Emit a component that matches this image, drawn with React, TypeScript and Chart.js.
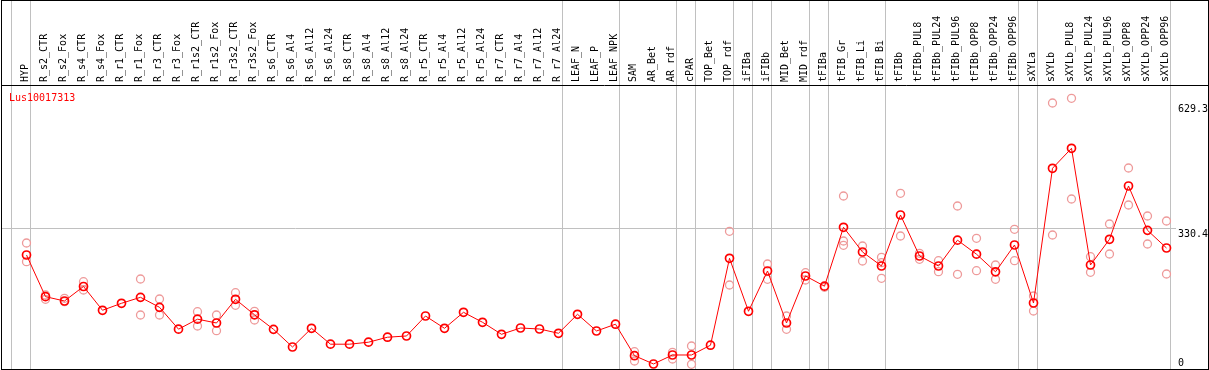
import React, { useEffect, useRef } from "react";
import { Chart, registerables } from "chart.js";

Chart.register(...registerables);

const categories = [
  "HYP", "R_s2_CTR", "R_s2_Fox", "R_s4_CTR", "R_s4_Fox", "R_r1_CTR", "R_r1_Fox", "R_r3_CTR", "R_r3_Fox",
  "R_r1s2_CTR", "R_r1s2_Fox", "R_r3s2_CTR", "R_r3s2_Fox", "R_s6_CTR", "R_s6_Al4", "R_s6_Al12", "R_s6_Al24",
  "R_s8_CTR", "R_s8_Al4", "R_s8_Al12", "R_s8_Al24", "R_r5_CTR", "R_r5_Al4", "R_r5_Al12", "R_r5_Al24",
  "R_r7_CTR", "R_r7_Al4", "R_r7_Al12", "R_r7_Al24", "LEAF_N", "LEAF_P", "LEAF_NPK", "SAM", "AR_Bet", "AR_rdf",
  "cPAR", "TOP_Bet", "TOP_rdf", "iFIBa", "iFIBb", "MID_Bet", "MID_rdf", "tFIBa", "tFIB_Gr", "tFIB_Li", "tFIB_Bi",
  "tFIBb", "tFIBb_PUL8", "tFIBb_PUL24", "tFIBb_PUL96", "tFIBb_OPP8", "tFIBb_OPP24", "tFIBb_OPP96",
  "sXYLa", "sXYLb", "sXYLb_PUL8", "sXYLb_PUL24", "sXYLb_PUL96", "sXYLb_OPP8", "sXYLb_OPP24", "sXYLb_OPP96",
];

const meanValues = [
  265.9, 166.2, 155.9, 190.6, 133.7, 150.4, 164.7, 140.8, 88.5,
  112.4, 103.3, 160.0, 122.9, 88.2, 45.9, 90.6, 52.6,
  52.6, 57.4, 69.3, 72.2, 120.0, 90.6, 128.9, 105.0,
  76.3, 91.3, 88.9, 78.7, 124.1, 84.2, 100.4, 25.1, 5.3, 26.8,
  26.8, 50.2, 258.0, 131.3, 227.6, 103.3, 215.7, 191.3, 332.1, 273.1, 239.6,
  361.5, 263.5, 239.6, 301.3, 267.8, 225.7, 289.8,
  151.1, 473.2, 521.0, 242.0, 303.4, 430.9, 324.9, 282.6,
];

const rep1 = [
  294.6, 170.2, 162.3, 202.0, null, null, 208.5, 160.7, null,
  130.3, 122.4, 175.7, 131.3, null, null, null, null,
  null, null, null, null, null, null, null, null,
  null, null, null, null, null, null, null, 34.7, null, 33.2,
  48.3, null, 322.5, null, 244.4, 120.0, 223.6, 188.6, 407.0, 287.4, 260.4,
  413.4, 269.9, 252.3, 383.0, 305.8, 242.0, 327.3,
  167.8, 629.3, 640.5, 261.8, 340.0, 473.9, 359.1, 347.2,
];

const rep2 = [
  249.9, 160.0, 154.2, 182.2, null, null, 122.4, 122.4, null,
  96.1, 84.9, 145.6, 110.5, null, null, null, null,
  null, null, null, null, null, null, null, null,
  null, null, null, null, null, null, null, 12.4, null, 17.2,
  4.5, null, 194.1, null, 207.8, 88.2, 206.1, null, 299.4, 251.5, 210.2,
  311.3, 255.6, 226.0, 219.7, 228.3, 207.8, 252.3,
  132.0, 313.7, 399.8, 224.5, 268.3, 385.4, 292.2, 220.5,
];

const rep3 = [
  null, null, null, null, null, null, null, null, null,
  null, null, null, null, null, null, null, null,
  null, null, null, null, null, null, null, null,
  null, null, null, null, null, null, null, null, null, null,
  null, null, null, null, null, null, null, null, 289.1, null, 247.5,
  null, null, null, null, null, null, null,
  null, null, null, null, null, null, null, null,
];

const yTickValues = [0, 330.4, 629.3];
const yGridValues = [330.4];
const groupBreaks = [-1, 0, 28, 31, 34, 35, 37, 38, 39, 41, 42, 45, 52, 53, 60];
const geneId = "Lus10017313";

const Y_MIN = -9.1;
const Y_MAX = 672.35;
const X_MIN = -24.5 / 19;
const X_MAX = 60.5;
const FONT = "'DejaVu Sans Mono', monospace";
const GRAY = "#c0c0c0";
const RED = "#ff0000";
const PINK = "#ee9a9a";

const toPoints = (arr: (number | null)[]) =>
  arr.map((v, i) => (v === null ? null : { x: i, y: v })).filter((p) => p !== null) as { x: number; y: number }[];

const framePlugin = {
  id: "framePlugin",
  beforeDatasetsDraw(chart: any) {
    const { ctx, scales } = chart;
    const x = scales.x;
    ctx.save();
    ctx.strokeStyle = GRAY;
    ctx.lineWidth = 1;
    groupBreaks.forEach((b) => {
      const px = Math.floor(x.getPixelForValue(b)) + 4.5;
      ctx.beginPath();
      ctx.moveTo(px, 0);
      ctx.lineTo(px, chart.height);
      ctx.stroke();
    });
    ctx.restore();
  },
  afterDraw(chart: any) {
    const { ctx, scales, chartArea } = chart;
    const y = scales.y;
    ctx.save();
    ctx.font = `10px ${FONT}`;
    ctx.fillStyle = "#000";
    ctx.textAlign = "left";
    ctx.textBaseline = "alphabetic";
    yTickValues.forEach((v) => {
      const py = y.getPixelForValue(v);
      const base = Math.min(py + 8.5, chart.height - 4);
      ctx.fillText(String(v), chartArea.right + 2, base);
    });
    ctx.fillStyle = RED;
    ctx.fillText(geneId, 9, chartArea.top + 15.5);
    ctx.clearRect(chart.width - 1, 0, 1, chart.height);
    ctx.strokeStyle = "#000";
    ctx.lineWidth = 1;
    ctx.strokeRect(1.5, 0.5, chart.width - 2, chart.height - 1);
    ctx.beginPath();
    ctx.moveTo(1, chartArea.top + 0.5);
    ctx.lineTo(chart.width - 1, chartArea.top + 0.5);
    ctx.stroke();
    ctx.restore();
  },
};

export default function App() {
  const canvasRef = useRef<HTMLCanvasElement | null>(null);

  useEffect(() => {
    document.body.style.margin = "0";
    const canvas = canvasRef.current;
    if (!canvas) return;
    const repStyle = {
      showLine: false,
      pointRadius: 4,
      pointBorderWidth: 1.3,
      pointBorderColor: PINK,
      pointBackgroundColor: "rgba(0,0,0,0)",
      borderColor: PINK,
      backgroundColor: "rgba(0,0,0,0)",
    };
    const chart = new Chart(canvas, {
      type: "line",
      data: {
        datasets: [
          {
            label: "mean",
            data: toPoints(meanValues),
            borderColor: RED,
            borderWidth: 1,
            pointRadius: 4,
            pointBorderWidth: 1.7,
            pointBorderColor: RED,
            pointBackgroundColor: "rgba(0,0,0,0)",
            backgroundColor: "rgba(0,0,0,0)",
            tension: 0,
          },
          { label: "rep1", data: toPoints(rep1), ...repStyle },
          { label: "rep2", data: toPoints(rep2), ...repStyle },
          { label: "rep3", data: toPoints(rep3), ...repStyle },
        ],
      },
      options: {
        responsive: false,
        animation: false,
        events: [],
        devicePixelRatio: 1,
        layout: { autoPadding: false, padding: { left: 2, right: 0, top: 0, bottom: 0 } },
        plugins: { legend: { display: false }, tooltip: { enabled: false } },
        scales: {
          x: {
            type: "linear",
            position: "top",
            min: X_MIN,
            max: X_MAX,
            afterBuildTicks: (s: any) => {
              s.ticks = categories.map((_, i) => ({ value: i }));
            },
            afterFit: (s: any) => {
              s.height = 85;
              s.paddingLeft = 0;
              s.paddingRight = 0;
            },
            grid: { display: false, drawTicks: false },
            border: { display: false },
            ticks: {
              autoSkip: false,
              minRotation: 90,
              maxRotation: 90,
              padding: 3,
              labelOffset: 10.5,
              color: "#000",
              font: { family: FONT, size: 10 },
              callback: (v: any) => categories[Math.round(Number(v))] ?? "",
            },
          },
          y: {
            type: "linear",
            position: "right",
            min: Y_MIN,
            max: Y_MAX,
            afterBuildTicks: (s: any) => {
              s.ticks = yTickValues.map((v) => ({ value: v }));
            },
            afterFit: (s: any) => {
              s.width = 33;
              s.paddingTop = 0;
              s.paddingBottom = 0;
            },
            border: { display: false },
            grid: {
              drawTicks: false,
              lineWidth: 1,
              color: (c: any) =>
                c.tick && yGridValues.includes(c.tick.value) ? GRAY : "rgba(0,0,0,0)",
            },
            ticks: { display: false },
          },
        },
      },
      plugins: [framePlugin],
    });
    return () => chart.destroy();
  }, []);

  return (
    <div style={{ width: 1209, height: 370 }}>
      <canvas ref={canvasRef} width={1209} height={370} style={{ display: "block" }} />
    </div>
  );
}
